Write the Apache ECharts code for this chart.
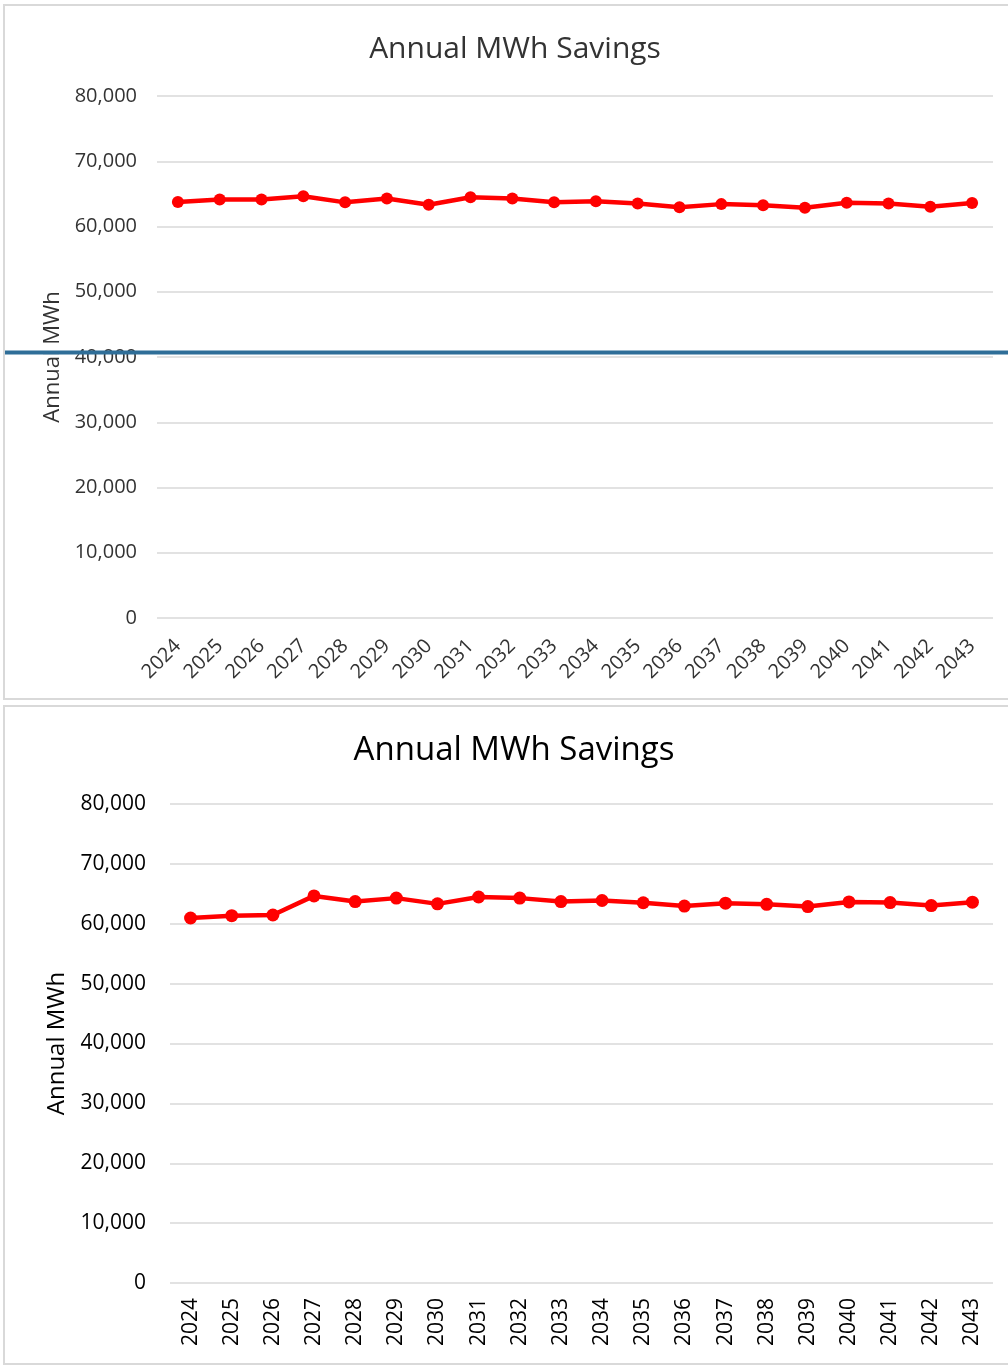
<!DOCTYPE html>
<html>
<head>
<meta charset="utf-8">
<title>Annual MWh Savings</title>
<script src="https://cdn.jsdelivr.net/npm/echarts@6/dist/echarts.min.js"></script>
<style>
  html, body { margin: 0; padding: 0; background: #ffffff; }
  #chart { width: 1008px; height: 1366px; }
</style>
</head>
<body>
<div id="chart"></div>
<script>
// Years shown on both panels
const years = ['2024','2025','2026','2027','2028','2029','2030','2031','2032','2033',
               '2034','2035','2036','2037','2038','2039','2040','2041','2042','2043'];

// Annual MWh savings, upper panel
const savingsUpper = [63750, 64150, 64150, 64650, 63700, 64280, 63320, 64470, 64280, 63700,
                      63880, 63510, 62950, 63430, 63250, 62870, 63650, 63540, 63030, 63600];

// Annual MWh savings, lower panel (revised first three years)
const savingsLower = [60960, 61350, 61460, 64650, 63700, 64280, 63320, 64470, 64280, 63700,
                      63880, 63510, 62950, 63430, 63250, 62870, 63650, 63540, 63030, 63600];

// Value axis ticks
const yMin = 0, yMax = 80000, yStep = 10000;

const chart = echarts.init(document.getElementById('chart'), null, { renderer: 'canvas' });

const fmt = v => v.toLocaleString('en-US');
const baseFont = '"Open Sans", "Noto Sans", sans-serif';

function valueAxis(gridIndex, size, color, nameSize, nameGap, margin) {
  return {
    gridIndex: gridIndex,
    type: 'value',
    min: yMin, max: yMax, interval: yStep,
    name: 'Annual MWh',
    nameLocation: 'middle',
    nameGap: nameGap,
    nameRotate: 90,
    nameTextStyle: { fontFamily: baseFont, fontSize: nameSize, color: color },
    axisLine: { show: false },
    axisTick: { show: false },
    axisLabel: { fontFamily: baseFont, fontSize: size, color: color, margin: margin, formatter: fmt },
    splitLine: { lineStyle: { color: '#d9d9d9', width: 1.5 } }
  };
}

function seriesFor(idx, data, symbolSize, lineWidth) {
  return {
    type: 'line',
    xAxisIndex: idx, yAxisIndex: idx,
    data: data,
    symbol: 'circle',
    symbolSize: symbolSize,
    lineStyle: { color: '#ff0000', width: lineWidth },
    itemStyle: { color: '#ff0000' },
    z: 5
  };
}

const option = {
  backgroundColor: '#ffffff',
  animation: false,
  title: [
    { text: 'Annual MWh Savings', left: 510, textAlign: 'center', top: 29,
      textStyle: { fontFamily: baseFont, fontSize: 30, fontWeight: 'normal', color: '#333333' } },
    { text: 'Annual MWh Savings', left: 509, textAlign: 'center', top: 729,
      textStyle: { fontFamily: baseFont, fontSize: 33, fontWeight: 'normal', color: '#000000' } }
  ],
  grid: [
    { left: 157, right: 15, top: 96, height: 522 },
    { left: 170, right: 15, top: 804, height: 479 }
  ],
  xAxis: [
    { gridIndex: 0, type: 'category', data: years, boundaryGap: true,
      axisLine: { show: false }, axisTick: { show: false },
      axisLabel: { rotate: 45, fontFamily: baseFont, fontSize: 20, color: '#333333', margin: 25, interval: 0 } },
    { gridIndex: 1, type: 'category', data: years, boundaryGap: true,
      axisLine: { show: false }, axisTick: { show: false },
      axisLabel: { rotate: 90, fontFamily: baseFont, fontSize: 21, color: '#000000', margin: 15, interval: 0 } }
  ],
  yAxis: [
    valueAxis(0, 20, '#333333', 22, 85, 20),
    valueAxis(1, 21, '#000000', 24, 100, 24)
  ],
  series: [
    seriesFor(0, savingsUpper, 12, 4.5),
    seriesFor(1, savingsLower, 13, 4.5)
  ],
  graphic: [
    // panel frames
    { type: 'rect', shape: { x: 4, y: 5, width: 1010, height: 694 },
      style: { fill: 'none', stroke: '#d9d9d9', lineWidth: 2 }, z: 1, silent: true },
    { type: 'rect', shape: { x: 4, y: 706, width: 1010, height: 658 },
      style: { fill: 'none', stroke: '#d9d9d9', lineWidth: 2 }, z: 1, silent: true },
    // blue rule across the upper panel
    { type: 'line', shape: { x1: 5, y1: 352.5, x2: 1008, y2: 352.5 },
      style: { stroke: '#2f6e98', lineWidth: 4 }, z: 100, silent: true }
  ]
};

chart.setOption(option);
</script>
</body>
</html>
